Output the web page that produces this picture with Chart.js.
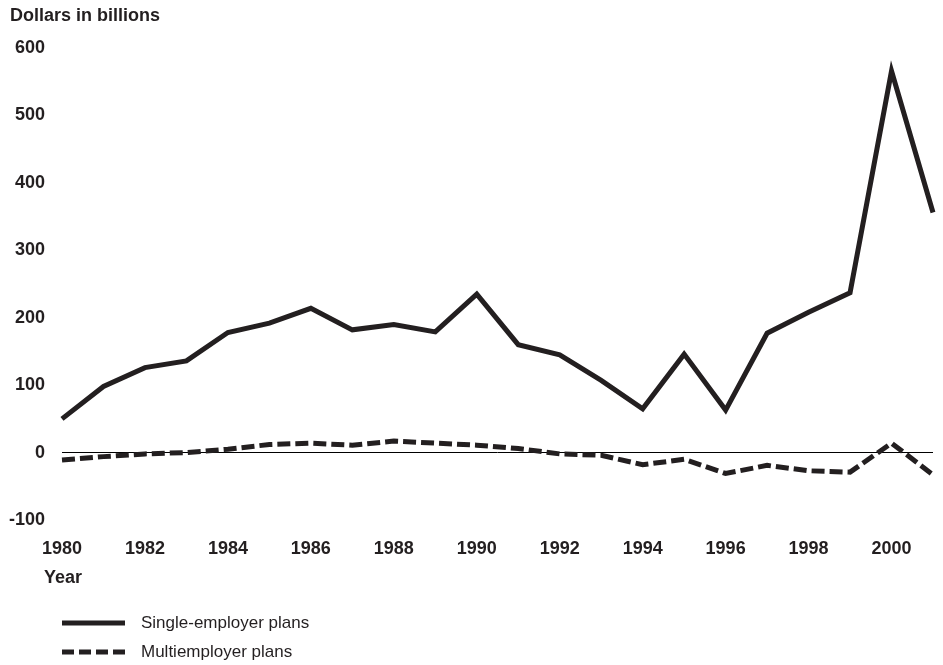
<!DOCTYPE html>
<html>
<head>
<meta charset="utf-8">
<script src="https://cdn.jsdelivr.net/npm/chart.js@4/dist/chart.umd.min.js"></script>
<style>
  html, body { margin: 0; padding: 0; background: #fff; }
  #wrap { width: 943px; height: 665px; position: relative; }
</style>
</head>
<body>
<div id="wrap"><canvas id="chart" width="943" height="665"></canvas></div>
<script>
// Data
const years = [1980, 1981, 1982, 1983, 1984, 1985, 1986, 1987, 1988, 1989, 1990,
  1991, 1992, 1993, 1994, 1995, 1996, 1997, 1998, 1999, 2000, 2001];
const singleEmployer = [50, 98, 126, 136, 178, 192, 214, 182, 190, 179, 235,
  160, 145, 107, 65, 146, 63, 177, 208, 237, 566, 356];
const multiEmployer = [-11, -6, -2, 0, 5, 12, 14, 11, 17, 14, 11,
  6, -2, -4, -18, -10, -31, -19, -27, -29, 14, -33];
const yTicks = [-100, 0, 100, 200, 300, 400, 500, 600];
const seriesNames = ["Single-employer plans", "Multiemployer plans"];

const ink = "#231f20";
const font = "'Liberation Sans', Arial, Helvetica, sans-serif";

const toPoints = (vals) => vals.map((v, i) => ({ x: years[i], y: v }));

// Draws the axis captions and the legend that sit outside the chart area
const annotations = {
  id: "annotations",
  afterDraw(chart) {
    const ctx = chart.ctx;
    ctx.save();
    ctx.fillStyle = ink;
    ctx.textBaseline = "middle";
    ctx.textAlign = "left";
    ctx.font = "bold 18px " + font;
    ctx.fillText("Dollars in billions", 10, 16);
    ctx.fillText("Year", 44, 578);

    const rows = [
      { label: seriesNames[0], y: 623, dash: [] },
      { label: seriesNames[1], y: 652, dash: [12, 5] }
    ];
    ctx.font = "17px " + font;
    rows.forEach((r) => {
      ctx.beginPath();
      ctx.strokeStyle = ink;
      ctx.lineWidth = 5;
      ctx.setLineDash(r.dash);
      ctx.moveTo(62, r.y);
      ctx.lineTo(125, r.y);
      ctx.stroke();
      ctx.setLineDash([]);
      ctx.fillText(r.label, 141, r.y);
    });
    ctx.restore();
  }
};

new Chart(document.getElementById("chart"), {
  type: "line",
  data: {
    datasets: [
      {
        label: seriesNames[0],
        data: toPoints(singleEmployer),
        borderColor: ink,
        borderWidth: 5,
        pointRadius: 0,
        tension: 0,
        fill: false,
        borderJoinStyle: "miter",
        clip: false
      },
      {
        label: seriesNames[1],
        data: toPoints(multiEmployer),
        borderColor: ink,
        borderWidth: 5,
        borderDash: [13, 5],
        pointRadius: 0,
        tension: 0,
        fill: false,
        clip: false
      }
    ]
  },
  options: {
    responsive: false,
    animation: false,
    layout: { padding: { top: 48, right: 10, bottom: 0, left: 0 } },
    plugins: {
      legend: { display: false },
      tooltip: { enabled: false }
    },
    scales: {
      x: {
        type: "linear",
        min: 1980,
        max: 2001,
        afterFit: (s) => { s.height = 145; },
        afterBuildTicks: (s) => {
          s.ticks = years.filter((y) => y % 2 === 0).map((v) => ({ value: v }));
        },
        grid: { display: false, drawTicks: false },
        border: { display: false },
        ticks: {
          color: ink,
          padding: 18,
          maxRotation: 0,
          autoSkip: false,
          font: { family: font, size: 18, weight: "bold" },
          callback: (v) => String(v)
        }
      },
      y: {
        type: "linear",
        min: -100,
        max: 600,
        afterFit: (s) => { s.width = 62; },
        afterBuildTicks: (s) => {
          s.ticks = yTicks.map((v) => ({ value: v }));
        },
        grid: {
          drawTicks: false,
          color: (c) => (c.tick && c.tick.value === 0 ? "#000" : "rgba(0,0,0,0)"),
          lineWidth: 1
        },
        border: { display: false },
        ticks: {
          color: ink,
          padding: 17,
          font: { family: font, size: 18, weight: "bold" },
          callback: (v) => String(v)
        }
      }
    }
  },
  plugins: [annotations]
});
</script>
</body>
</html>
